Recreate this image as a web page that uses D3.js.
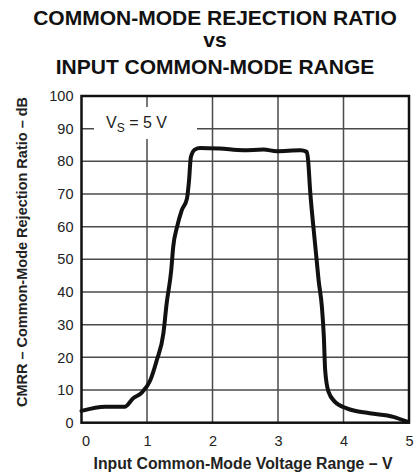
<!DOCTYPE html>
<html>
<head>
<meta charset="utf-8">
<script src="https://cdn.jsdelivr.net/npm/d3@7"></script>
<style>
  html, body { margin: 0; padding: 0; background: #fff; }
  svg { display: block; font-family: "Liberation Sans", Arial, sans-serif; }
</style>
</head>
<body>
<svg id="chart" width="420" height="474"></svg>
<script>
// Input common-mode voltage (V) and measured CMRR (dB)
const vcm = [0, 0.36, 0.66, 0.79, 0.92, 1.05, 1.15, 1.25, 1.30, 1.37, 1.40, 1.46, 1.53, 1.61, 1.64, 1.67, 1.73, 1.81, 2.11, 2.47, 2.78, 2.98, 3.34, 3.44, 3.46, 3.49, 3.54, 3.59, 3.62, 3.67, 3.70, 3.72, 3.77, 3.87, 4.05, 4.40, 4.76, 4.97];
const cmrr = [3.6, 4.9, 4.9, 7.5, 9.2, 13, 19.2, 27.3, 36.5, 46.7, 53.8, 60, 65, 68.6, 73.7, 81.3, 83.6, 84.1, 83.9, 83.4, 83.6, 83.1, 83.4, 82.9, 80.3, 71.2, 60, 49.8, 43.6, 35.5, 26.3, 16.1, 9.5, 6.4, 4.4, 2.9, 1.8, 0.3];

const xTicks = [0, 1, 2, 3, 4, 5];
const yTicks = [0, 10, 20, 30, 40, 50, 60, 70, 80, 90, 100];
const titleLines = ["COMMON-MODE REJECTION RATIO", "vs", "INPUT COMMON-MODE RANGE"];

const svg = d3.select("#chart");
const plotLeft = 81.5, plotRight = 409, plotTop = 96, plotBottom = 422.7;

const x = d3.scaleLinear().domain([0, 5]).range([plotLeft, plotRight]);
const y = d3.scaleLinear().domain([0, 100]).range([plotBottom, plotTop]);

// Title
svg.append("g").selectAll("text").data(titleLines).join("text")
  .attr("x", 215)
  .attr("y", (d, i) => [25, 47, 74][i])
  .attr("text-anchor", "middle")
  .attr("font-weight", "bold")
  .attr("font-size", 21)
  .attr("fill", "#111")
  .text(d => d);

// Grid
const grid = svg.append("g").attr("stroke", "#4a4a4a").attr("stroke-width", 1.5);
grid.selectAll("line.v").data(xTicks.slice(1, -1)).join("line")
  .attr("class", "v")
  .attr("x1", d => x(d)).attr("x2", d => x(d))
  .attr("y1", plotTop).attr("y2", plotBottom);
grid.selectAll("line.h").data(yTicks.slice(1, -1)).join("line")
  .attr("class", "h")
  .attr("x1", plotLeft).attr("x2", plotRight)
  .attr("y1", d => y(d)).attr("y2", d => y(d));

// White box behind the supply label
svg.append("rect")
  .attr("x", 94).attr("y", 107).attr("width", 103).attr("height", 32)
  .attr("fill", "#fff");
const vs = svg.append("text")
  .attr("x", 106).attr("y", 128)
  .attr("font-size", 16).attr("fill", "#222");
vs.append("tspan").text("V");
vs.append("tspan").attr("font-size", 12).attr("dy", 4).text("S");
vs.append("tspan").attr("dy", -4).text(" = 5 V");

// Frame
svg.append("rect")
  .attr("x", plotLeft).attr("y", plotTop)
  .attr("width", plotRight - plotLeft).attr("height", plotBottom - plotTop)
  .attr("fill", "none").attr("stroke", "#111").attr("stroke-width", 2.5);

// Axes (labels only)
const xAxis = d3.axisBottom(x).tickValues(xTicks).tickFormat(d3.format("d"))
  .tickSize(0).tickPadding(13);
svg.append("g").attr("transform", `translate(0,${plotBottom})`).call(xAxis)
  .call(g => g.select(".domain").remove())
  .selectAll("text").attr("font-size", 14.5).attr("fill", "#222")
  .attr("font-family", "Liberation Sans, Arial, sans-serif")
  .attr("dx", d => d === 0 ? 4 : 0);

const yAxis = d3.axisLeft(y).tickValues(yTicks).tickFormat(d3.format("d"))
  .tickSize(0).tickPadding(8);
svg.append("g").attr("transform", `translate(${plotLeft},0)`).call(yAxis)
  .call(g => g.select(".domain").remove())
  .selectAll("text").attr("font-size", 14.5).attr("fill", "#222")
  .attr("font-family", "Liberation Sans, Arial, sans-serif");

// Axis titles
svg.append("text")
  .attr("x", 243).attr("y", 469)
  .attr("text-anchor", "middle").attr("font-weight", "bold").attr("font-size", 15.8)
  .attr("fill", "#222")
  .text("Input Common-Mode Voltage Range \u2013 V");

svg.append("text")
  .attr("transform", "translate(27,252) rotate(-90)")
  .attr("text-anchor", "middle").attr("font-weight", "bold").attr("font-size", 14.5)
  .attr("fill", "#222")
  .text("CMRR \u2013 Common-Mode Rejection Ratio \u2013 dB");

// Curve
const line = d3.line().x((d, i) => x(vcm[i])).y(d => y(d)).curve(d3.curveMonotoneX);
svg.append("path")
  .datum(cmrr)
  .attr("d", line)
  .attr("fill", "none")
  .attr("stroke", "#111")
  .attr("stroke-width", 4)
  .attr("stroke-linejoin", "round")
  .attr("stroke-linecap", "round");
</script>
</body>
</html>
